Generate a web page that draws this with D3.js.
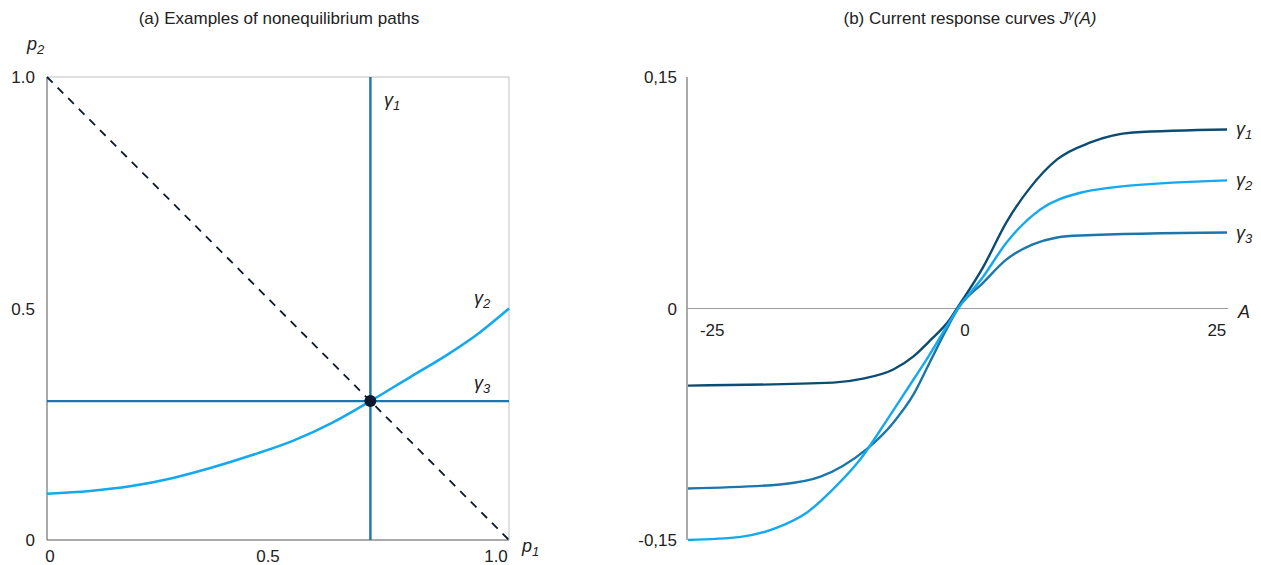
<!DOCTYPE html>
<html>
<head>
<meta charset="utf-8">
<script src="https://cdn.jsdelivr.net/npm/d3@7"></script>
<style>
	body { margin: 0; background: #fff; }
	svg { font-family: "Liberation Sans", Arial, sans-serif; }
	.tick-label { font-size: 17px; fill: #222; }
	.title { font-size: 17px; fill: #222; }
	.sym { font-size: 18px; font-style: italic; fill: #222; }
</style>
</head>
<body>
<div id="chart"></div>
<script>
// ---- Panel (a) data
const p1Ticks = [0, 0.5, 1.0];
const p2Ticks = [0, 0.5, 1.0];
const p1TickLabels = ["0", "0.5", "1.0"];
const p2TickLabels = ["0", "0.5", "1.0"];
const equilibrium = [0.7, 0.3];
const simplexP1 = [0, 1];
const simplexP2 = [1, 0];
const gamma2P1 = [0, 0.093, 0.18, 0.273, 0.359, 0.446, 0.532, 0.619, 0.70, 0.786, 0.866, 0.931, 1.0];
const gamma2P2 = [0.1, 0.106, 0.116, 0.134, 0.157, 0.184, 0.214, 0.254, 0.30, 0.352, 0.40, 0.444, 0.5];

// ---- Panel (b) data
const aTicks = [-25, 0, 25];
const jTicks = [-0.15, 0, 0.15];
const jTickLabels = ["-0,15", "0", "0,15"];
const curveA1 = [-27.1, -12.75, -9.8, -6.8, -4.8, -3.2, -1.2, -0.5, 2.1, 4.4, 6.7, 9.4, 12.7, 16.9, 26.2];
const curveJ1 = [-0.050, -0.048, -0.0454, -0.0395, -0.031, -0.021, -0.007, 0, 0.027, 0.056, 0.078, 0.0966, 0.1076, 0.114, 0.116];
const curveA2 = [-27.1, -21.9, -18.3, -15.3, -12.75, -10.1, -7.4, -4.8, -3.5, -1.7, -0.4, 2.1, 4.4, 7.7, 11.7, 14.3, 26.2];
const curveJ2 = [-0.150, -0.148, -0.142, -0.132, -0.117, -0.098, -0.072, -0.046, -0.033, -0.0136, 0, 0.0207, 0.0428, 0.064, 0.075, 0.078, 0.083];
const curveA3 = [-27.1, -18.0, -14.0, -11.8, -9.4, -6.8, -4.8, -3.2, -1.7, -0.4, 2.1, 4.4, 7.0, 9.4, 11.7, 26.2];
const curveJ3 = [-0.1166, -0.114, -0.109, -0.102, -0.091, -0.074, -0.0557, -0.035, -0.0155, 0, 0.0168, 0.0318, 0.0415, 0.046, 0.0473, 0.0492];
const curveNames = ["1", "2", "3"];

const W = 1261, H = 565;
const svg = d3.select("#chart").append("svg").attr("width", W).attr("height", H);

const C = { g1dark: "#0d4c72", g2: "#14a9ee", g3: "#1a76ab", navy: "#0b1a2c", axis: "#555", frame: "#c0c0c0" };

// helper: greek symbol with subscript
function gammaLabel(sel, x, y, sub) {
	const t = sel.append("text").attr("class", "sym").attr("x", x).attr("y", y);
	t.append("tspan").text("γ");
	t.append("tspan").attr("dy", 4).style("font-size", "13px").text(sub);
	return t;
}

// ================= Panel (a)
const left = { x0: 47, x1: 509, y0: 77, y1: 540 };
const sx = d3.scaleLinear([0, 1], [left.x0, left.x1]);
const sy = d3.scaleLinear([0, 1], [left.y1, left.y0]);
const ga = svg.append("g");

ga.append("text").attr("class", "title").attr("x", 279).attr("y", 24)
	.attr("text-anchor", "middle").text("(a) Examples of nonequilibrium paths");

// frame
ga.append("line").attr("x1", sx(0)).attr("x2", sx(1)).attr("y1", sy(1)).attr("y2", sy(1)).attr("stroke", C.frame);
ga.append("line").attr("x1", sx(1)).attr("x2", sx(1)).attr("y1", sy(0)).attr("y2", sy(1)).attr("stroke", C.frame);
ga.append("line").attr("x1", sx(0)).attr("x2", sx(0)).attr("y1", sy(0)).attr("y2", sy(1)).attr("stroke", C.axis);
ga.append("line").attr("x1", sx(0)).attr("x2", sx(1)).attr("y1", sy(0)).attr("y2", sy(0)).attr("stroke", C.axis);

// tick labels (slightly offset toward the left, as in the source figure)
const xOffset = { 0: 3, 0.5: -10, 1: -13 };
ga.selectAll("text.xt").data(p1Ticks).join("text").attr("class", "tick-label xt")
	.attr("x", (d) => sx(d) + xOffset[d]).attr("y", sy(0) + 22)
	.attr("text-anchor", "middle").text((d, i) => p1TickLabels[i]);
ga.selectAll("text.yt").data(p2Ticks).join("text").attr("class", "tick-label yt")
	.attr("x", sx(0) - 12).attr("y", (d) => sy(d) + 6)
	.attr("text-anchor", "end").text((d, i) => p2TickLabels[i]);

// axis names
const p2 = ga.append("text").attr("class", "sym").attr("x", 27).attr("y", 50);
p2.append("tspan").text("p");
p2.append("tspan").attr("dy", 4).style("font-size", "13px").text("2");
const p1 = ga.append("text").attr("class", "sym").attr("x", 522).attr("y", 552);
p1.append("tspan").text("p");
p1.append("tspan").attr("dy", 4).style("font-size", "13px").text("1");

// simplex diagonal
ga.append("line").attr("x1", sx(simplexP1[0])).attr("y1", sy(simplexP2[0]))
	.attr("x2", sx(simplexP1[1])).attr("y2", sy(simplexP2[1]))
	.attr("stroke", C.navy).attr("stroke-width", 1.8).attr("stroke-dasharray", "8,7");

// gamma1 vertical, gamma3 horizontal
ga.append("line").attr("x1", sx(equilibrium[0])).attr("x2", sx(equilibrium[0]))
	.attr("y1", sy(0)).attr("y2", sy(1)).attr("stroke", C.g3).attr("stroke-width", 2.4);
ga.append("line").attr("x1", sx(0)).attr("x2", sx(1))
	.attr("y1", sy(equilibrium[1])).attr("y2", sy(equilibrium[1])).attr("stroke", C.g3).attr("stroke-width", 2.4);

// gamma2 curve
const lineA = d3.line().x((d) => sx(d[0])).y((d) => sy(d[1])).curve(d3.curveMonotoneX);
ga.append("path").datum(d3.zip(gamma2P1, gamma2P2)).attr("d", lineA)
	.attr("fill", "none").attr("stroke", C.g2).attr("stroke-width", 2.6);

ga.append("circle").attr("cx", sx(equilibrium[0])).attr("cy", sy(equilibrium[1]))
	.attr("r", 6).attr("fill", C.navy);

gammaLabel(ga, 384, 106, "1");
gammaLabel(ga, 474, 304, "2");
gammaLabel(ga, 474, 389, "3");

// ================= Panel (b)
const right = { x0: 687, x1: 1228, y0: 77, y1: 540 };
const ax = d3.scaleLinear([-27.2, 26.3], [right.x0, right.x1]);
const jy = d3.scaleLinear([-0.15, 0.15], [right.y1, right.y0]);
const gb = svg.append("g");

const tb = gb.append("text").attr("class", "title").attr("x", 970).attr("y", 24).attr("text-anchor", "middle");
tb.append("tspan").text("(b) Current response curves ");
tb.append("tspan").style("font-style", "italic").text("J");
tb.append("tspan").attr("dy", -6).style("font-size", "11px").style("font-style", "italic").text("γ");
tb.append("tspan").attr("dy", 6).style("font-style", "italic").text("(A)");

gb.append("line").attr("x1", ax.range()[0]).attr("x2", ax.range()[0])
	.attr("y1", jy(-0.15)).attr("y2", jy(0.15)).attr("stroke", C.axis);
gb.append("line").attr("x1", ax.range()[0]).attr("x2", ax.range()[1])
	.attr("y1", jy(0)).attr("y2", jy(0)).attr("stroke", "#9a9a9a").attr("stroke-width", 1.2);

gb.selectAll("text.yt").data(jTicks).join("text").attr("class", "tick-label yt")
	.attr("x", ax.range()[0] - 10).attr("y", (d) => jy(d) + 6)
	.attr("text-anchor", "end").text((d, i) => jTickLabels[i]);
gb.selectAll("text.xt").data(aTicks).join("text").attr("class", "tick-label xt")
	.attr("x", (d) => ax(d) + (d === 25 ? 2 : 3)).attr("y", jy(0) + 27)
	.attr("text-anchor", "middle").text((d) => d);

gb.append("text").attr("class", "sym").attr("x", 1238).attr("y", 318).text("A");

const lineB = d3.line().x((d) => ax(d[0])).y((d) => jy(d[1])).curve(d3.curveMonotoneX);
const curves = [
	{ a: curveA1, j: curveJ1, color: C.g1dark },
	{ a: curveA3, j: curveJ3, color: C.g3 },
	{ a: curveA2, j: curveJ2, color: C.g2 }
];
gb.selectAll("path.resp").data(curves).join("path").attr("class", "resp")
	.attr("d", (c) => lineB(d3.zip(c.a, c.j)))
	.attr("fill", "none").attr("stroke", (c) => c.color).attr("stroke-width", 2.4);

[curveJ1, curveJ2, curveJ3].forEach((js, i) => {
	gammaLabel(gb, 1236, jy(js[js.length - 1]) + 6, curveNames[i]);
});
</script>
</body>
</html>
